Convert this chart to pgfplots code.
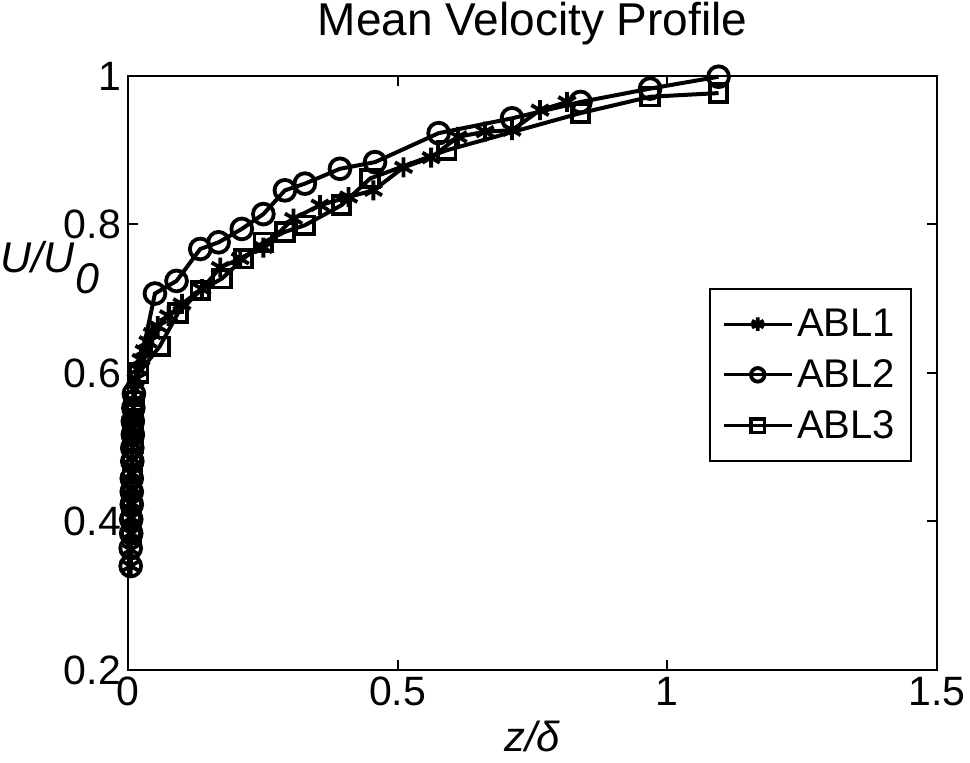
\documentclass[border=0pt]{standalone}
\usepackage{fontspec}
\setmainfont{Liberation Sans}
\usepackage{pgfplots}
\pgfplotsset{compat=1.18}

\begin{document}
\begin{tikzpicture}
\begin{axis}[
  scale only axis,
  width=404.5pt, height=297pt,
  xmin=0, xmax=1.5, ymin=0.2, ymax=1,
  xtick={0,0.5,1,1.5},
  ytick={0.2,0.4,0.6,0.8,1},
  tick align=inside,
  tick pos=both,
  major tick length=5pt,
  axis line style={line width=1pt},
  every tick/.style={black, line width=1pt},
  tick label style={font=\fontsize{20.5}{21}\selectfont},
  /pgf/number format/assume math mode=true,
  clip=false,
  title={Mean Velocity Profile},
  title style={font=\fontsize{23}{24}\selectfont, at={(0.5,1)}, anchor=base, yshift=14pt},
  xlabel={\textit{z/δ}},
  xlabel style={font=\fontsize{21}{22}\selectfont, at={(0.5,0)}, anchor=base, yshift=-41pt},
  ylabel={\textit{U/U}\raisebox{-0.5em}{\textit{0}}},
  ylabel style={font=\fontsize{21.5}{22}\selectfont, rotate=-90, at={(0,0.67)}, anchor=base east, xshift=-11pt},
  legend style={at={(0.969,0.643)}, anchor=north east, draw=black, line width=0.8pt,
                font=\fontsize{20}{21}\selectfont, row sep=6pt,
                inner xsep=6pt, inner ysep=8pt,
                cells={anchor=west, inner xsep=5pt}},
  legend image code/.code={\draw[mark repeat=2, mark phase=2, #1, line width=1.5pt, mark size=3.4pt]
     plot coordinates {(0pt,0pt)(17pt,0pt)(34pt,0pt)};},
  every axis plot/.append style={black, line width=2pt, mark options={solid, line width=1.9pt}},
]
% ABL1
\addplot[mark=asterisk, mark size=5pt] coordinates {
 (0.005,0.340)(0.005,0.362)(0.006,0.384)(0.006,0.405)(0.006,0.425)
 (0.007,0.445)(0.007,0.465)(0.007,0.485)(0.008,0.505)(0.008,0.525)
 (0.009,0.545)(0.010,0.562)(0.012,0.578)(0.015,0.592)(0.019,0.605)
 (0.024,0.618)(0.030,0.630)(0.037,0.642)(0.045,0.653)(0.055,0.663)
 (0.075,0.677)(0.100,0.693)(0.137,0.713)(0.171,0.742)(0.208,0.754)
 (0.251,0.769)(0.307,0.808)(0.356,0.826)(0.409,0.837)(0.455,0.846)
 (0.511,0.877)(0.562,0.890)(0.612,0.918)(0.662,0.925)(0.712,0.927)
 (0.764,0.954)(0.814,0.965)};
\addlegendentry{ABL1}
% ABL2
\addplot[mark=o, mark size=5.2pt] coordinates {
 (0.005,0.340)(0.005,0.364)(0.006,0.384)(0.006,0.403)(0.007,0.423)
 (0.007,0.440)(0.007,0.458)(0.008,0.481)(0.008,0.499)(0.009,0.517)
 (0.009,0.535)(0.010,0.553)(0.011,0.572)
 (0.050,0.707)(0.090,0.724)(0.134,0.767)(0.168,0.776)(0.211,0.794)
 (0.251,0.814)(0.291,0.846)(0.328,0.855)(0.393,0.875)(0.458,0.884)
 (0.576,0.923)(0.712,0.943)(0.839,0.965)(0.968,0.983)(1.095,0.999)};
\addlegendentry{ABL2}
% ABL3
\addplot[mark=square, mark size=4.4pt] coordinates {
 (0.006,0.385)(0.006,0.405)(0.007,0.425)(0.007,0.445)(0.008,0.465)
 (0.008,0.485)(0.009,0.505)(0.009,0.525)(0.010,0.545)(0.011,0.562)
 (0.020,0.600)(0.059,0.636)(0.093,0.681)(0.134,0.711)(0.174,0.727)
 (0.214,0.754)(0.251,0.776)(0.291,0.790)(0.328,0.799)(0.396,0.826)
 (0.449,0.862)(0.591,0.900)(0.839,0.950)(0.968,0.972)(1.095,0.977)};
\addlegendentry{ABL3}
\end{axis}
\pgfresetboundingbox
\path[use as bounding box] (-64pt,-46.5pt) rectangle (421pt,335pt);
\end{tikzpicture}
\end{document}
